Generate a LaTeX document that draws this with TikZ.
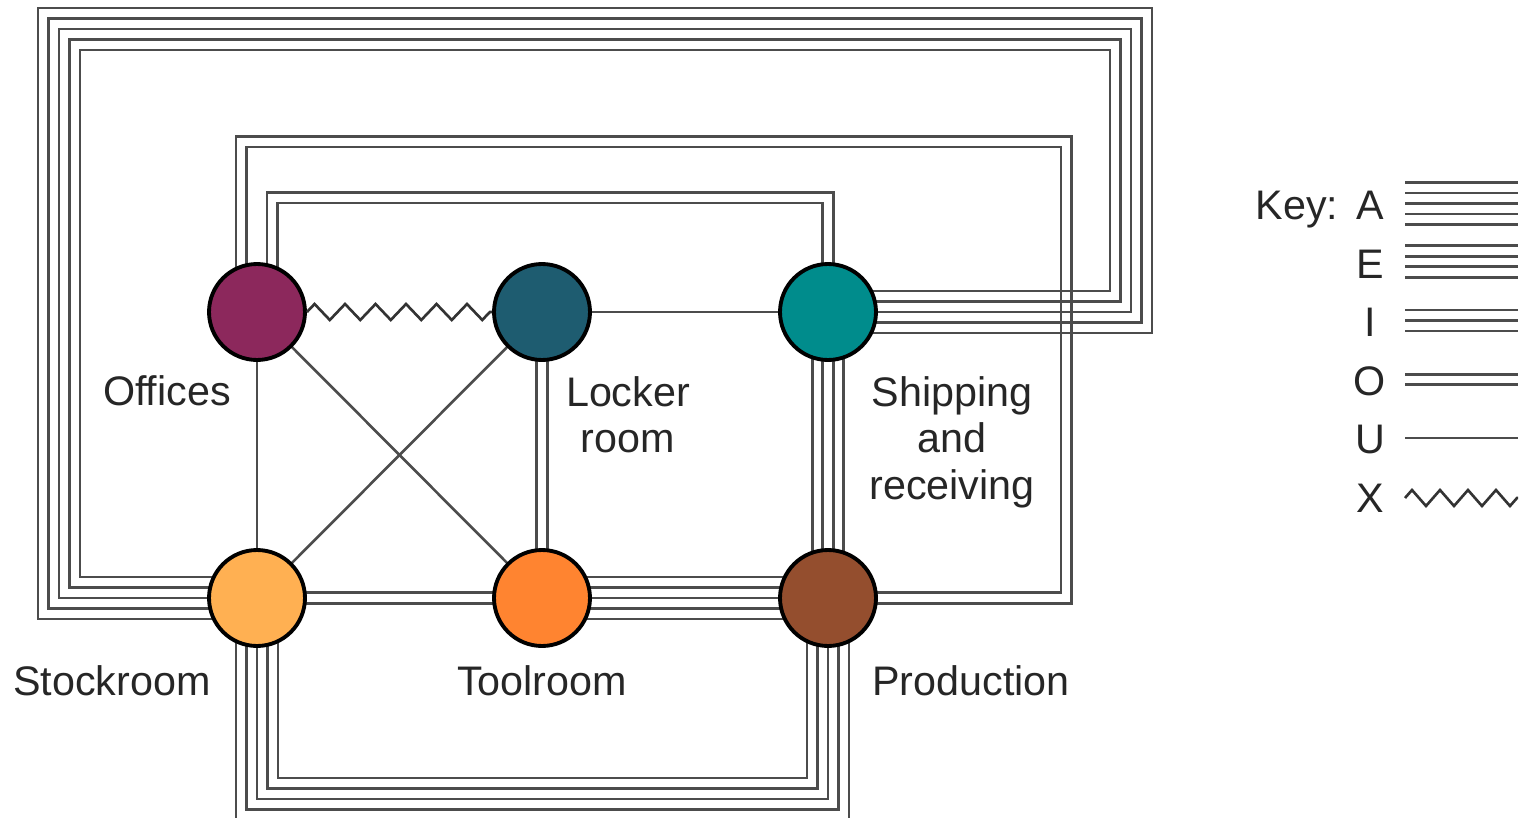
\documentclass[tikz,border=0pt]{standalone}
\usepackage{fontspec}
\setmainfont{Liberation Sans}
\usetikzlibrary{decorations.pathmorphing}
\pgfdeclarelayer{bg}
\pgfsetlayers{bg,main}
\definecolor{offcol}{RGB}{140,40,92}
\definecolor{lockcol}{RGB}{30,92,112}
\definecolor{shipcol}{RGB}{0,140,140}
\definecolor{stockcol}{RGB}{255,176,82}
\definecolor{toolcol}{RGB}{255,132,48}
\definecolor{prodcol}{RGB}{148,78,46}
\tikzset{
  dept/.style={circle, draw=black, line width=2.2pt, minimum size=1.92cm, inner sep=0pt},
  rel/.style={draw=black!70, line width=1.5pt},
  zig/.style={draw=black!80, line width=1.5pt, decorate,
    decoration={zigzag, segment length=0.61cm, amplitude=0.16cm}},
  lbl/.style={font=\fontsize{23.5}{26.5}\selectfont, text=black!85, inner sep=0pt, align=center},
}

\begin{document}
\begin{tikzpicture}[x=0.02cm, y=-0.02cm]
  \useasboundingbox (0,0) rectangle (1528,818);
  % departments
  \node[dept, fill=offcol] (off) at (257,312) {};
  \node[dept, fill=lockcol] (lock) at (542,312) {};
  \node[dept, fill=shipcol] (ship) at (828,312) {};
  \node[dept, fill=stockcol] (stock) at (257,598) {};
  \node[dept, fill=toolcol] (tool) at (542,598) {};
  \node[dept, fill=prodcol] (prod) at (828,598) {};

  \node[lbl, anchor=base] (offlbl) at (167,405) {Offices};
  \node[lbl, anchor=north] (locklbl) at (628,376) {Locker\\room};
  \node[lbl, anchor=north] (shiplbl) at (952,376) {Shipping\\and\\receiving};
  \node[lbl, anchor=base] (stocklbl) at (112,695) {Stockroom};
  \node[lbl, anchor=base] (toollbl) at (542,695) {Toolroom};
  \node[lbl, anchor=base] (prodlbl) at (971,695) {Production};

  \begin{pgfonlayer}{bg}
    % single lines (U)
    \draw[rel] (lock.center) -- (ship.center);
    \draw[rel] (off.center) -- (stock.center);
    \draw[rel] (off.center) -- (tool.center);
    \draw[rel] (lock.center) -- (stock.center);
    % O
    \foreach \o in {-5.25,5.25} {
      \draw[rel] ([shift={(\o,0)}]lock.center) -- ([shift={(\o,0)}]tool.center);
      \draw[rel] ([shift={(0,\o)}]stock.center) -- ([shift={(0,\o)}]tool.center);
    }
    % E
    \foreach \o in {-15.75,-5.25,5.25,15.75}
      \draw[rel] ([shift={(\o,0)}]ship.center) -- ([shift={(\o,0)}]prod.center);
    % A
    \foreach \o in {-21,-10.5,0,10.5,21}
      \draw[rel] ([shift={(0,\o)}]tool.center) -- ([shift={(0,\o)}]prod.center);
    % stockroom to shipping (A), round the top
    \foreach \k [evaluate=\k as \o using -21+10.5*\k,
                 evaluate=\k as \xl using 80-10.5*\k,
                 evaluate=\k as \yt using 50-10.5*\k,
                 evaluate=\k as \xr using 1110+10.5*\k] in {0,...,4}
      \draw[rel] ([shift={(0,\o)}]stock.center) -| (\xl,\yt) -- (\xr,\yt)
        |- ([shift={(0,\o)}]ship.center);
    % stockroom to production (A), round the bottom
    \foreach \k [evaluate=\k as \o using 21-10.5*\k,
                 evaluate=\k as \yb using 778+10.5*\k] in {0,...,4}
      \draw[rel] ([shift={(\o,0)}]stock.center) |- (540,\yb)
        -| ([shift={(-\o,0)}]prod.center);
    % offices to production (O)
    \foreach \k [evaluate=\k as \ox using -10.5-10.5*\k,
                 evaluate=\k as \yt using 147-10.5*\k,
                 evaluate=\k as \xr using 1061+10.5*\k,
                 evaluate=\k as \oy using -5.25+10.5*\k] in {0,1}
      \draw[rel] ([shift={(\ox,0)}]off.center) |- (\xr,\yt)
        |- ([shift={(0,\oy)}]prod.center);
    % offices to shipping (O)
    \foreach \k [evaluate=\k as \ox using 20.5-10.5*\k,
                 evaluate=\k as \yt using 203-10.5*\k,
                 evaluate=\k as \sx using -5.25+10.5*\k] in {0,1}
      \draw[rel] ([shift={(\ox,0)}]off.center) |- (540,\yt)
        -| ([shift={(\sx,0)}]ship.center);
  \end{pgfonlayer}
  % X
  \draw[zig] (off.east) -- (lock.west);

  % key
  \node[lbl, anchor=base] (keylbl) at (1297,219) {Key:};
  \node[lbl, anchor=base] (keyA) at (1370,219) {A};
  \node[lbl, anchor=base] (keyE) at (1370,278) {E};
  \node[lbl, anchor=base] (keyI) at (1370,336) {I};
  \node[lbl, anchor=base] (keyO) at (1370,395) {O};
  \node[lbl, anchor=base] (keyU) at (1370,453) {U};
  \node[lbl, anchor=base] (keyX) at (1370,512) {X};
  \foreach \o in {-21,-10.5,0,10.5,21}
    \draw[rel] (1405,203.5+\o) -- (1518,203.5+\o);
  \foreach \o in {-15.75,-5.25,5.25,15.75}
    \draw[rel] (1405,261.5+\o) -- (1518,261.5+\o);
  \foreach \o in {-10.5,0,10.5}
    \draw[rel] (1405,320.5+\o) -- (1518,320.5+\o);
  \foreach \o in {-5.25,5.25}
    \draw[rel] (1405,379.5+\o) -- (1518,379.5+\o);
  \draw[rel] (1405,438) -- (1518,438);
  \draw[zig, decoration={segment length=0.56cm}] (1405,498) -- (1518,498);
\end{tikzpicture}
\end{document}
